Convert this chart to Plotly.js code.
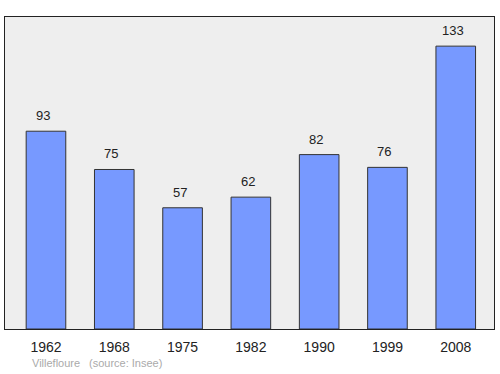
<!DOCTYPE html>
<html>
<head>
<meta charset="utf-8">
<script src="https://cdn.plot.ly/plotly-3.0.1.min.js"></script>
<style>html,body{margin:0;padding:0;background:#fff;}#chart{width:500px;height:374px;}</style>
</head>
<body>
<div id="chart"></div>
<script>
const years = ["1962", "1968", "1975", "1982", "1990", "1999", "2008"];
const population = [93, 75, 57, 62, 82, 76, 133];
const commune = "Villefloure";
const source = "(source: Insee)";

const annotations = years.map((y, i) => ({
  x: i, y: population[i], xref: 'x', yref: 'y',
  text: String(population[i]), showarrow: false,
  yanchor: 'bottom', yshift: 6, xshift: -3,
  font: {family: 'Liberation Sans, Arial, sans-serif', size: 13, color: '#222'}
}));
annotations.push({
  xref: 'paper', yref: 'paper', x: 0.052, y: -0.11, xanchor: 'left', yanchor: 'middle',
  text: commune, showarrow: false,
  font: {family: 'Liberation Sans, Arial, sans-serif', size: 11, color: '#aaaaaa'}
});
annotations.push({
  xref: 'paper', yref: 'paper', x: 0.168, y: -0.11, xanchor: 'left', yanchor: 'middle',
  text: source, showarrow: false,
  font: {family: 'Liberation Sans, Arial, sans-serif', size: 11, color: '#aaaaaa'}
});

const trace = {
  type: 'bar', x: years, y: population,
  marker: {color: '#7799ff', line: {color: '#333333', width: 1}},
  width: 0.58, hoverinfo: 'none'
};

const layout = {
  width: 500, height: 374,
  margin: {l: 5, r: 6, t: 17, b: 45},
  paper_bgcolor: '#ffffff', plot_bgcolor: '#eeeeee',
  showlegend: false,
  xaxis: {
    type: 'category', range: [-0.6, 6.56],
    showgrid: false, zeroline: false,
    ticks: '', ticklabelstandoff: 5,
    tickfont: {family: 'Liberation Sans, Arial, sans-serif', size: 14, color: '#222'},
    showline: true, linecolor: '#222', linewidth: 1, mirror: true
  },
  yaxis: {
    range: [0, 146.7], showgrid: false, zeroline: false,
    showticklabels: false, ticks: '',
    showline: true, linecolor: '#222', linewidth: 1, mirror: true
  },
  annotations: annotations
};

Plotly.newPlot('chart', [trace], layout, {staticPlot: true, displayModeBar: false});
</script>
</body>
</html>
